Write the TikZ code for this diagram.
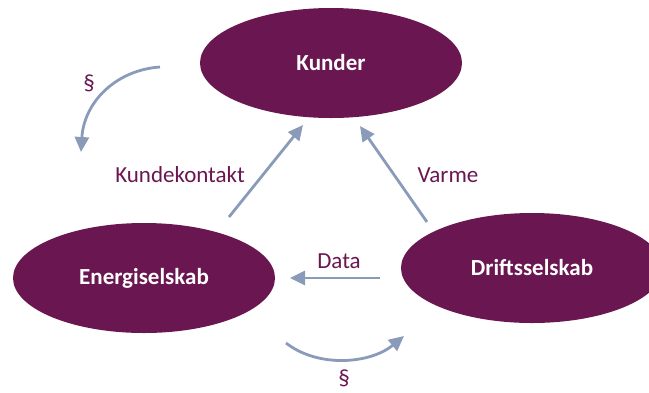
\documentclass[tikz,border=0pt]{standalone}
\usepackage{fontspec}
\setmainfont{Carlito}
\usetikzlibrary{arrows.meta, shapes.geometric, calc}
\definecolor{Plum}{HTML}{6A1650}
\definecolor{Steel}{HTML}{8A9BBA}

\begin{document}
\begin{tikzpicture}[x=1pt, y=-1pt,
    party/.style={ellipse, fill=Plum, minimum width=262, minimum height=110,
        inner sep=0pt, text=white, font=\fontsize{23}{27}\selectfont\bfseries},
    flow/.style={Steel, line width=2.8pt, -{Triangle[length=15pt, width=14pt]}},
    lbl/.style={text=Plum, font=\fontsize{23}{27}\selectfont}]

    \useasboundingbox (0,0) rectangle (649,392);
    \clip (0,0) rectangle (649,392);

    % Parties
    \node[party] (kunder) at (331,63) {Kunder};
    \node[party] (energi) at (144,278) {Energiselskab};
    \node[party] (drift) at (532,268) {Driftsselskab};

    % Free ends of the arrows
    \coordinate (kk-from) at (229,217);
    \coordinate (kk-to) at (303,125);
    \coordinate (varme-from) at (427,222);
    \coordinate (varme-to) at (360,126);
    \coordinate (data-from) at (380,278);
    \coordinate (data-to) at (290,278);
    \coordinate (lov1-from) at (160,67);
    \coordinate (lov1-to) at (81,152);
    \coordinate (lov2-from) at (286,343);
    \coordinate (lov2-to) at (404,336);

    % Flows
    \draw[flow] (kk-from) -- (kk-to);
    \draw[flow] (varme-from) -- (varme-to);
    \draw[flow] (data-from) -- (data-to);
    \draw[flow] (lov1-from) .. controls (116,70) and (84,102) .. (lov1-to);
    \draw[flow] (lov2-from) .. controls (318,368) and (370,364) .. (lov2-to);

    % Labels
    \node[lbl] (kundekontakt) at (180,175) {Kundekontakt};
    \node[lbl] (varme) at (448,175) {Varme};
    \node[lbl] (data) at (339,261) {Data};
    \node[lbl] (lov1) at (89,83) {§};
    \node[lbl] (lov2) at (344,378) {§};

\end{tikzpicture}
\end{document}
